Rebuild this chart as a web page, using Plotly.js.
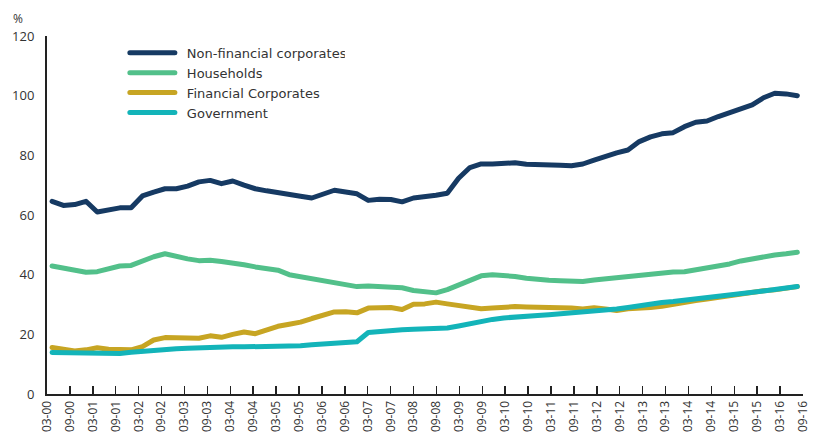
<!DOCTYPE html>
<html>
<head>
<meta charset="utf-8">
<script src="https://cdn.plot.ly/plotly-3.0.1.min.js"></script>
<style>
html,body{margin:0;padding:0;background:#fff}
#chart{width:816px;height:437px}
#chart path.js-line{stroke-linejoin:round;stroke-linecap:round}
#chart .legendlines path{stroke-linecap:round}
#chart .legend text.legendtext{transform:translate(7px,0)}
</style>
</head>
<body>
<div id="chart"></div>
<script>
// Quarterly data, 03-00 to 09-16
const quarters = Array.from({length: 67}, (_, i) => i);

const tickLabels = ['03-00','09-00','03-01','09-01','03-02','09-02','03-03','09-03','03-04','09-04',
  '03-05','09-05','03-06','09-06','03-07','09-07','03-08','09-08','03-09','09-09',
  '03-10','09-10','03-11','09-11','03-12','09-12','03-13','09-13','03-14','09-14',
  '03-15','09-15','03-16','09-16'];

const nonFinancialCorporates = [64.6, 63.2, 63.5, 64.6, 61.0, 61.8, 62.4, 62.4, 66.4, 67.7,
  68.8, 68.8, 69.7, 71.1, 71.6, 70.5, 71.4, 70.0, 68.8, 68.1,
  67.4, 66.6, 66.3, 65.7, 67.1, 68.3, 67.7, 67.1, 64.9, 65.3,
  65.2, 64.4, 65.7, 66.0, 66.6, 67.3, 72.3, 75.9, 77.1, 77.1,
  77.1, 77.5, 77.0, 77.0, 76.9, 76.7, 76.5, 77.1, 78.4, 79.8,
  80.8, 81.8, 84.6, 86.2, 87.2, 87.6, 89.6, 91.1, 91.5, 93.0,
  94.3, 95.2, 96.9, 99.3, 100.8, 100.6, 100.0];

const households = [42.9, 42.1, 41.3, 40.8, 41.0, 42.1, 42.9, 43.1, 44.7, 46.0,
  47.0, 46.0, 45.3, 44.7, 44.8, 44.4, 44.0, 43.3, 42.6, 42.0,
  41.5, 40.0, 39.4, 38.8, 38.1, 37.4, 36.6, 36.0, 36.2, 36.1,
  36.0, 35.6, 34.7, 34.1, 33.9, 35.0, 36.5, 38.0, 39.6, 40.0,
  39.8, 39.4, 38.8, 38.3, 38.1, 38.0, 37.9, 37.7, 38.2, 38.6,
  39.1, 39.4, 39.8, 40.2, 40.6, 40.9, 41.0, 41.6, 42.4, 43.0,
  43.6, 44.6, 45.4, 46.1, 46.6, 47.0, 47.5];

const financialCorporates = [15.6, 15.0, 14.4, 14.8, 15.5, 15.0, 15.0, 14.8, 15.9, 18.1,
  18.9, 18.9, 18.8, 18.7, 19.5, 19.0, 20.0, 20.8, 20.2, 21.4,
  22.7, 23.4, 24.1, 25.3, 26.6, 27.5, 27.6, 27.2, 28.8, 29.0,
  29.0, 28.3, 30.1, 30.2, 30.8, 30.2, 29.6, 29.3, 28.6, 28.8,
  29.1, 29.3, 29.2, 29.1, 29.2, 29.3, 28.8, 28.5, 28.9, 28.5,
  28.0, 28.6, 28.7, 29.0, 29.4, 30.1, 30.9, 31.3, 31.8, 32.4,
  33.0, 33.6, 34.2, 34.6, 34.9, 35.4, 36.0];

const government = [13.9, 13.9, 13.9, 13.9, 13.6, 13.5, 13.6, 14.0, 14.4, 14.8,
  15.0, 15.2, 15.3, 15.5, 15.6, 15.8, 15.8, 15.8, 15.8, 15.9,
  15.9, 16.0, 16.2, 16.5, 16.8, 16.8, 17.0, 17.5, 20.6, 21.0,
  21.5, 21.5, 21.7, 21.9, 21.9, 22.1, 22.8, 23.6, 24.4, 25.0,
  25.5, 25.9, 26.1, 26.3, 26.6, 26.9, 27.0, 27.2, 27.6, 28.0,
  28.5, 29.0, 29.7, 30.3, 30.7, 31.0, 31.4, 31.7, 32.2, 32.6,
  33.1, 33.6, 34.0, 34.5, 35.0, 35.5, 36.0];

const seriesNames = ['Non-financial corporates', 'Households', 'Financial Corporates', 'Government'];
const seriesColors = ['#163a63', '#52c08a', '#c7a523', '#13b4b9'];
const seriesValues = [nonFinancialCorporates, households, financialCorporates, government];

const traces = seriesValues.map((vals, k) => ({
  type: 'scatter', mode: 'lines', x: quarters, y: vals, name: seriesNames[k],
  line: {color: seriesColors[k], width: 5, shape: 'linear'}
}));

const r0 = -0.45, r1 = 66.5;
const tickvals = tickLabels.map((_, k) => r0 + k * (r1 - r0) / (tickLabels.length - 1));

const font = '"Open Sans", Lato, sans-serif';
const legendFont = '"DejaVu Sans", "Open Sans", sans-serif';
const layout = {
  width: 816, height: 437,
  margin: {l: 47, r: 13, t: 36, b: 43},
  paper_bgcolor: '#fff', plot_bgcolor: '#fff',
  font: {family: font, color: '#333', size: 13},
  showlegend: true,
  legend: {x: 0.103, y: 0.995, xanchor: 'left', yanchor: 'top', bgcolor: 'rgba(0,0,0,0)',
    font: {family: legendFont, size: 13, color: '#333'}, tracegroupgap: 0, itemwidth: 45},
  xaxis: {
    range: [r0, r1], tickmode: 'array', tickvals: tickvals, ticktext: tickLabels,
    tickangle: -90, ticks: 'inside', ticklen: 8, tickwidth: 1.5, tickcolor: '#222',
    showline: true, linecolor: '#222', linewidth: 2, showgrid: false, zeroline: false,
    tickfont: {family: font, size: 12, color: '#333'}, fixedrange: true
  },
  yaxis: {
    range: [0, 120], dtick: 20, tick0: 0, showline: true, linecolor: '#222', linewidth: 2,
    showgrid: false, zeroline: false, ticks: '', ticklabelstandoff: 8,
    tickfont: {family: font, size: 13, color: '#333'}, fixedrange: true
  },
  annotations: [{text: '%', xref: 'paper', yref: 'paper', x: -0.038, y: 1.05, xanchor: 'center',
    yanchor: 'middle', showarrow: false, font: {family: font, size: 12, color: '#333'}}]
};

Plotly.newPlot('chart', traces, layout, {displayModeBar: false, staticPlot: true});
</script>
</body>
</html>
